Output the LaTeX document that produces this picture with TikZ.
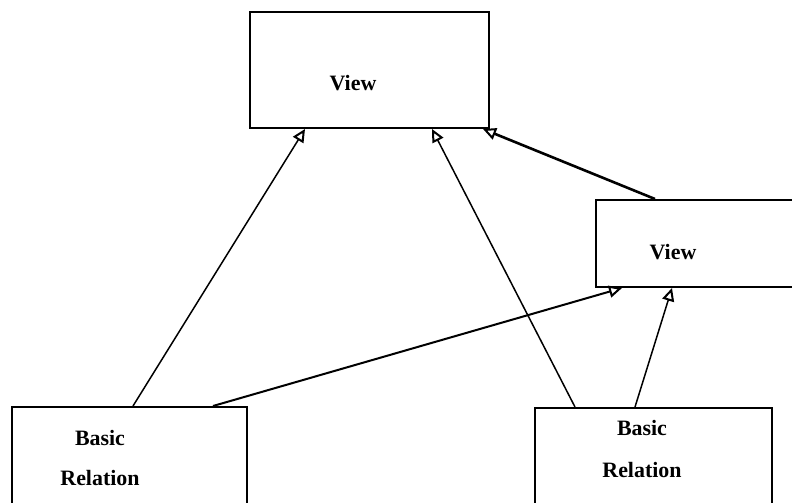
\documentclass[tikz,border=0pt]{standalone}
\usepackage{fontspec}
\setmainfont{Liberation Serif}
\usepackage{tikz}
\usetikzlibrary{arrows.meta, positioning}

\tikzset{
	box/.style={draw, line width=2bp, inner sep=0pt},
	lbl/.style={font=\fontsize{22}{40}\selectfont\bfseries, align=center},
	ptr/.style={line width=1.5bp, -{Triangle[open, length=13bp, width=12bp, line width=2bp]}}
}

\begin{document}
\begin{tikzpicture}[x=1bp, y=-1bp]
		
		% Riquadro della pagina
		\useasboundingbox (0,0) rectangle (792,503);
		\clip (0,0) rectangle (792,503);
		
		% Viste
		\node[box, minimum width=239bp, minimum height=116bp] (topview) at (369.5,70) {};
		\node[lbl] (topview_txt) at (353,83) {View};
		
		\node[box, minimum width=210bp, minimum height=87bp] (rightview) at (701,243.5) {};
		\node[lbl] (rightview_txt) at (673,252) {View};
		
		% Relazioni di base
		\node[box, minimum width=235bp, minimum height=120bp] (leftbase) at (129.5,467) {};
		\node[lbl] (leftbase_txt) at (100,458) {Basic\\Relation};
		
		\node[box, minimum width=237bp, minimum height=120bp] (rightbase) at (653.5,468) {};
		\node[lbl, font=\fontsize{22}{42}\selectfont\bfseries] (rightbase_txt) at (642,449) {Basic\\Relation};
		
		% Frecce
		\draw[ptr] ([xshift=3.5bp]leftbase.north) -- ([xshift=-64.5bp]topview.south);
		\draw[ptr, line width=2bp] ([xshift=83.5bp]leftbase.north) -- ([xshift=-79bp]rightview.south);
		\draw[ptr] ([xshift=-78.5bp]rightbase.north) -- ([xshift=62.5bp]topview.south);
		\draw[ptr] ([xshift=-18.5bp]rightbase.north) -- ([xshift=-29bp]rightview.south);
		\draw[ptr, line width=2.6bp] ([xshift=-46bp]rightview.north) -- ([xshift=-7bp]topview.south east);
		
	\end{tikzpicture}
\end{document}
